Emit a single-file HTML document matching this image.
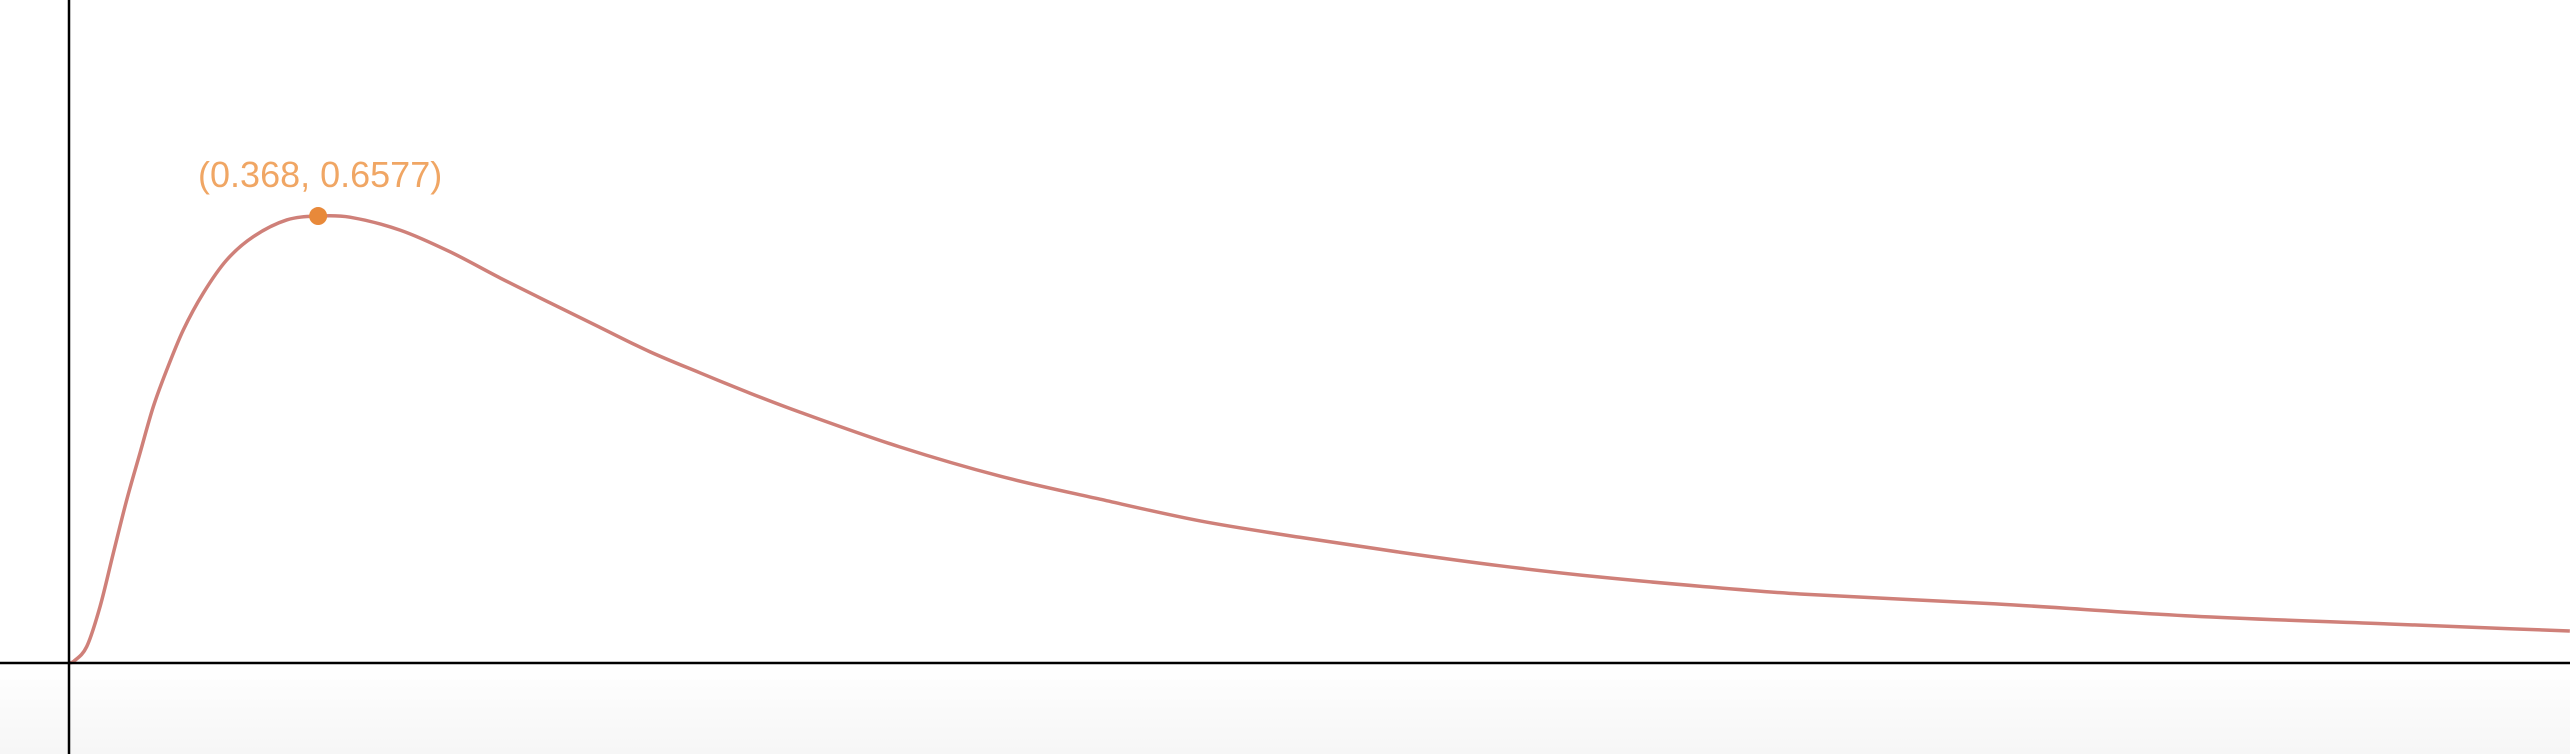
<!DOCTYPE html>
<html><head><meta charset="utf-8"><style>
html,body{margin:0;padding:0;background:#fff}
svg{display:block}
</style></head><body>
<svg id="chart" width="2570" height="754" viewBox="0 0 2570 754" xmlns="http://www.w3.org/2000/svg">
<defs><linearGradient id="bg" x1="0" y1="0" x2="0" y2="1"><stop offset="0" stop-color="#ffffff"/><stop offset="1" stop-color="#f6f6f6"/></linearGradient></defs>
<rect x="0" y="663" width="2570" height="91" fill="url(#bg)"/>
<g id="curve-layer"></g>
<line x1="0" y1="663" x2="2570" y2="663" stroke="#000" stroke-width="2.5"/>
<line x1="69" y1="0" x2="69" y2="754" stroke="#000" stroke-width="2.5"/>
<g id="mark-layer"></g>
</svg>
<script>
const xs = [0, 0.0064, 0.0261, 0.0458, 0.0654, 0.0852, 0.1049, 0.1245, 0.1443, 0.1688, 0.1984, 0.2329, 0.2722, 0.3216, 0.368, 0.415, 0.489, 0.563, 0.637, 0.7105, 0.784, 0.858, 0.932, 1.006, 1.080, 1.227, 1.375, 1.523, 1.671, 1.818, 1.966, 2.114, 2.261, 2.409, 2.557, 2.846, 3.137, 3.427, 3.694];
const ys = [0, 0.0019, 0.024, 0.0828, 0.1614, 0.2398, 0.309, 0.3771, 0.4311, 0.490, 0.5444, 0.593, 0.6273, 0.6519, 0.6577, 0.656, 0.637, 0.605, 0.5665, 0.530, 0.494, 0.458, 0.427, 0.397, 0.369, 0.318, 0.275, 0.241, 0.209, 0.185, 0.163, 0.143, 0.1265, 0.113, 0.1015, 0.087, 0.069, 0.0574, 0.047];
const peakX = [0.368];
const peakY = [0.6577];
const peakLabel = ["(0.368, 0.6577)"];

const ox = 69, oy = 663, sx = 677, sy = 679.6;
function X(v){ return ox + v * sx; }
function Y(v){ return oy - v * sy; }
const NS = "http://www.w3.org/2000/svg";

const pts = xs.map((x, i) => [X(x), Y(ys[i])]);
let d = "M" + pts[0][0] + "," + pts[0][1];
for (let i = 0; i < pts.length - 1; i++) {
  const p0 = pts[Math.max(0, i - 1)], p1 = pts[i], p2 = pts[i + 1], p3 = pts[Math.min(pts.length - 1, i + 2)];
  const h = p2[0] - p1[0];
  const m1 = (p2[1] - p0[1]) / ((p2[0] - p0[0]) || 1);
  const m2 = (p3[1] - p1[1]) / ((p3[0] - p1[0]) || 1);
  const c1x = p1[0] + h / 3, c1y = p1[1] + m1 * h / 3;
  const c2x = p2[0] - h / 3, c2y = p2[1] - m2 * h / 3;
  d += " C" + c1x + "," + c1y + " " + c2x + "," + c2y + " " + p2[0] + "," + p2[1];
}
const path = document.createElementNS(NS, "path");


path.setAttribute("d", d);
path.setAttribute("fill", "none");
path.setAttribute("stroke", "#cf8079");
path.setAttribute("stroke-width", "3.5");
path.setAttribute("stroke-linejoin", "round");
document.getElementById("curve-layer").appendChild(path);

const ml = document.getElementById("mark-layer");
peakX.forEach((px, i) => {
  const c = document.createElementNS(NS, "circle");
  
  
  c.setAttribute("cx", X(px));
  c.setAttribute("cy", Y(peakY[i]));
  c.setAttribute("r", "9");
  c.setAttribute("fill", "#e8893a");
  ml.appendChild(c);
  const t = document.createElementNS(NS, "text");
  
  
  t.setAttribute("x", X(px) + 2);
  t.setAttribute("y", Y(peakY[i]) - 29);
  t.setAttribute("text-anchor", "middle");
  t.setAttribute("font-family", "Liberation Sans, sans-serif");
  t.setAttribute("font-size", "36");
  t.setAttribute("fill", "#f0a664");
  t.textContent = peakLabel[i];
  ml.appendChild(t);
});
</script>
</body></html>
